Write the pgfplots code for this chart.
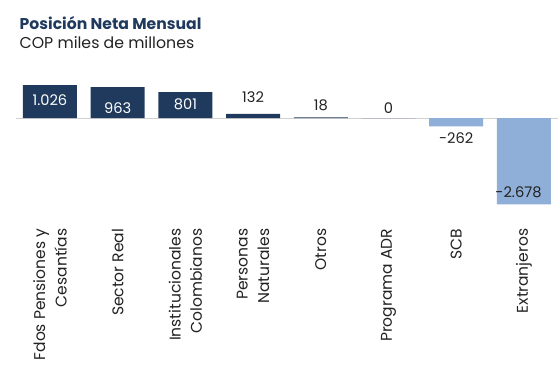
\documentclass[border=0pt]{standalone}
\usepackage{pgfplots}
\pgfplotsset{compat=1.18}
\usepackage{fontspec}
\setmainfont{Poppins}
\definecolor{navy}{HTML}{203A5E}
\definecolor{lblue}{HTML}{8FAFD8}
\definecolor{txt}{HTML}{222222}
\begin{document}
\begin{tikzpicture}
\useasboundingbox (0bp,0bp) rectangle (560bp,374bp);
\node[anchor=base west, inner sep=0, text=navy, font=\fontsize{15.7}{18}\selectfont\bfseries] at (19.5bp,344.5bp) {Posición Neta Mensual};
\node[anchor=base west, inner sep=0, text=txt, font=\fontsize{15.8}{18}\selectfont] at (19.5bp,325.5bp) {COP miles de millones};
\begin{axis}[at={(16.1bp,165.8bp)}, anchor=south west, width=541.7bp, height=128.8bp, scale only axis,
  xmin=-0.5, xmax=7.5, ymin=-2800, ymax=1200,
  axis line style={draw=none}, ytick=\empty,
  xtick={0,...,7},
  xticklabels={{Fdos Pensiones y\\Cesantías}, Sector Real, {Institucionales\\Colombianos}, {Personas\\Naturales}, Otros, Programa ADR, SCB, Extranjeros},
  major tick length=0, xticklabel shift=17bp,
  xticklabel style={rotate=90, anchor=east, align=right, text=txt, font=\fontsize{15.6}{21.5}\selectfont},
  clip=false]
\draw[color=black!18, line width=1bp] (axis cs:-0.5,0) -- (axis cs:7.5,0);
\addplot[ybar, bar shift=0pt, bar width=54bp, fill=navy, draw=none] coordinates {(0,1026) (1,963) (2,801) (3,132) (4,18) (5,0)};
\addplot[ybar, bar shift=0pt, bar width=54bp, fill=lblue, draw=none] coordinates {(6,-262) (7,-2678)};
\addplot[draw=none, mark=none, nodes near coords, point meta=explicit symbolic,
  every node near coord/.append style={anchor=center, text=white, font=\fontsize{14.7}{18}\selectfont}]
  table[meta=lab] {
x y lab
0 559 1.026
1 311 963
2 435 801
};
\addplot[draw=none, mark=none, nodes near coords, point meta=explicit symbolic,
  every node near coord/.append style={anchor=center, text=txt, font=\fontsize{14.7}{18}\selectfont}]
  table[meta=lab] {
x y lab
3 652 132
4 404 18
5 311 0
6 -621 -262
6.92 -2298 -2.678
};
\end{axis}
\end{tikzpicture}
\end{document}
